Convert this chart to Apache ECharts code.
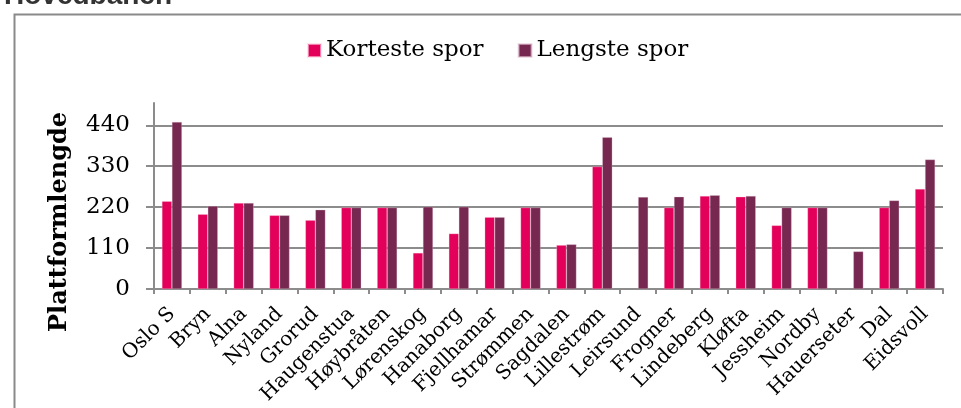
<!DOCTYPE html>
<html>
<head>
<meta charset="utf-8">
<script src="https://cdn.jsdelivr.net/npm/echarts@6/dist/echarts.min.js"></script>
<style>
  html, body { margin: 0; padding: 0; background: #fff; }
  #chart { width: 961px; height: 408px; }
</style>
</head>
<body>
<div id="chart"></div>
<script>
// stasjoner langs Hovedbanen
var stations = ['Oslo S', 'Bryn', 'Alna', 'Nyland', 'Grorud', 'Haugenstua', 'Høybråten',
    'Lørenskog', 'Hanaborg', 'Fjellhamar', 'Strømmen', 'Sagdalen', 'Lillestrøm', 'Leirsund',
    'Frogner', 'Lindeberg', 'Kløfta', 'Jessheim', 'Nordby', 'Hauerseter', 'Dal', 'Eidsvoll'];

var korteste = [236, 201, 231, 198, 185, 219, 219, 97, 149, 193, 219, 118, 329, null,
    219, 250, 248, 171, 219, null, 219, 269];

var lengste = [449, 223, 231, 198, 213, 219, 219, 221, 221, 193, 219, 120, 408, 247,
    248, 252, 250, 219, 219, 101, 238, 348];

var yTicks = [0, 110, 220, 330, 440];

var serif = 'DejaVu Serif';

var dom = document.getElementById('chart');
var myChart = echarts.init(dom, null, { renderer: 'canvas' });

var option = {
    backgroundColor: '#ffffff',
    animation: false,
    title: {
        text: 'Hovedbanen',
        left: -1,
        top: -23,
        textStyle: {
            fontFamily: 'Liberation Sans',
            fontWeight: 'bold',
            fontSize: 28,
            color: '#333333'
        }
    },
    graphic: [{
        type: 'rect',
        left: 12,
        top: 12,
        shape: { width: 1100, height: 600 },
        style: { fill: 'none', stroke: '#8a8a8a', lineWidth: 2 },
        silent: true
    }],
    legend: {
        top: 34,
        left: 302,
        itemWidth: 13,
        itemHeight: 13,
        itemGap: 34,
        icon: 'rect',
        textStyle: {
            fontFamily: serif,
            fontSize: 23,
            color: '#000'
        },
        data: ['Korteste spor', 'Lengste spor']
    },
    grid: {
        left: 154,
        right: 18,
        top: 103,
        bottom: 119
    },
    xAxis: {
        type: 'category',
        data: stations,
        axisLine: { lineStyle: { color: '#8c8c8c', width: 2 } },
        axisTick: { show: true, alignWithLabel: false, length: 5, lineStyle: { color: '#8c8c8c', width: 2 } },
        axisLabel: {
            interval: 0,
            rotate: 45,
            margin: 22,
            fontFamily: serif,
            fontSize: 20,
            color: '#000'
        }
    },
    yAxis: {
        type: 'value',
        min: 0,
        max: 500,
        interval: 110,
        name: 'Plattformlengde',
        nameLocation: 'middle',
        nameGap: 82,
        nameRotate: 90,
        nameTextStyle: {
            fontFamily: serif,
            fontWeight: 'bold',
            fontSize: 24,
            color: '#000',
            padding: [0, 52, 0, 0]
        },
        axisLine: { show: true, lineStyle: { color: '#8c8c8c', width: 2 } },
        axisTick: { show: true, length: 8, customValues: yTicks, lineStyle: { color: '#8c8c8c', width: 2 } },
        axisLabel: {
            customValues: yTicks,
            margin: 24,
            fontFamily: serif,
            fontSize: 23,
            color: '#000'
        },
        splitLine: {
            show: true,
            lineStyle: { color: '#8c8c8c', width: 2 }
        }
    },
    series: [
        {
            name: 'Korteste spor',
            type: 'bar',
            data: korteste,
            barWidth: 10,
            barGap: '0%',
            itemStyle: { color: '#e2005a', borderColor: 'rgba(255,210,225,0.6)', borderWidth: 0.5 }
        },
        {
            name: 'Lengste spor',
            type: 'bar',
            data: lengste,
            barWidth: 10,
            barGap: '0%',
            itemStyle: { color: '#762851', borderColor: 'rgba(230,200,215,0.6)', borderWidth: 0.5 }
        }
    ]
};

myChart.setOption(option);
</script>
</body>
</html>
